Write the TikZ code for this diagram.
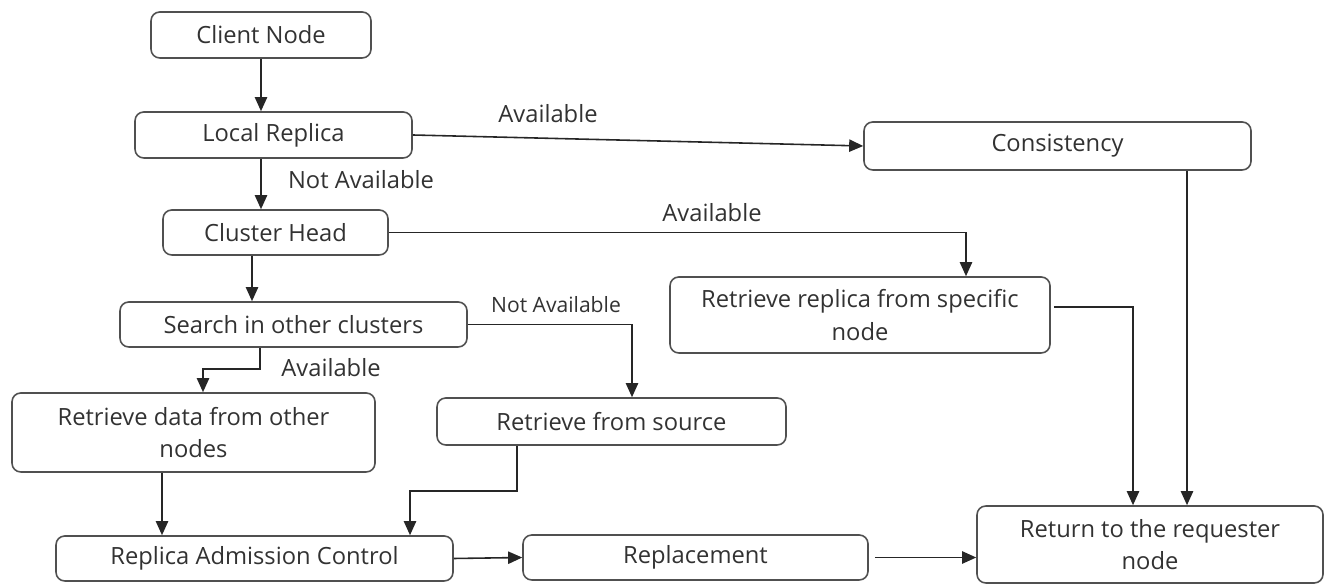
\documentclass[tikz,border=0pt]{standalone}
\usepackage{fontspec}
\setmainfont{Open Sans}
\usepackage{xcolor}
\definecolor{boxline}{RGB}{80,80,80}
\definecolor{boxtext}{RGB}{50,50,50}
\usepackage{tikz}
\usetikzlibrary{arrows.meta, positioning, calc}

\begin{document}
\begin{tikzpicture}[
  box/.style={draw=boxline, line width=0.9pt, rounded corners=5pt, align=center,
              text=boxtext, font=\fontsize{13.5}{18.5}\selectfont, inner sep=2pt},
  lbl/.style={text=boxtext, font=\fontsize{13.5}{16}\selectfont, inner sep=1pt},
  arr/.style={draw=black!85, line width=0.9pt, -{Triangle[length=8pt, width=7pt]}}
]
  \useasboundingbox (0,0) rectangle (26.48,11.7);

  % Boxes
  \node[box, minimum width=4.4cm,  minimum height=0.92cm] (client) at (5.22,11.0) {Client Node};
  \node[box, minimum width=5.54cm, minimum height=0.92cm] (local) at (5.47,9.0) {Local Replica};
  \node[box, minimum width=7.74cm, minimum height=0.96cm] (cons) at (21.15,8.78) {Consistency};
  \node[box, minimum width=4.5cm,  minimum height=0.9cm]  (head) at (5.51,7.05) {Cluster Head};
  \node[box, minimum width=7.6cm,  minimum height=1.52cm] (spec) at (17.2,5.4) {Retrieve replica from specific\\node};
  \node[box, minimum width=6.94cm, minimum height=0.9cm]  (search) at (5.87,5.21) {Search in other clusters};
  \node[box, minimum width=6.98cm, minimum height=0.94cm] (source) at (12.23,3.27) {Retrieve from source};
  \node[box, minimum width=7.26cm, minimum height=1.58cm] (others) at (3.87,3.05) {Retrieve data from other\\nodes};
  \node[box, minimum width=7.94cm, minimum height=0.9cm]  (admit) at (5.09,0.53) {Replica Admission Control};
  \node[box, minimum width=6.9cm,  minimum height=0.9cm]  (replace) at (13.91,0.55) {Replacement};
  \node[box, minimum width=6.92cm, minimum height=1.54cm] (ret) at (23.0,0.81) {Return to the requester\\node};

  % Labels
  \node[lbl] (avail1) at (10.96,9.42) {Available};
  \node[lbl] (notav1) at (7.22,8.1) {Not Available};
  \node[lbl] (avail2) at (14.24,7.44) {Available};
  \node[lbl, font=\fontsize{12}{14}\selectfont] (notav2) at (11.12,5.6) {Not Available};
  \node[lbl] (avail3) at (6.62,4.34) {Available};

  % Connector ends
  \coordinate (hs) at ([xshift=-0.47cm]head.south);
  \coordinate (ss) at ([xshift=-0.67cm]search.south);
  \coordinate (ot) at ([xshift=0.19cm]others.north);
  \coordinate (ob) at ([xshift=-0.63cm]others.south);
  \coordinate (sb) at ([xshift=-1.89cm]source.south);
  \coordinate (at) at ([xshift=3.11cm]admit.north);
  \coordinate (se) at ([xshift=0.06cm, yshift=0.16cm]spec.east);
  \coordinate (rt) at ([xshift=-0.34cm]ret.north);
  \coordinate (cb) at ([xshift=2.59cm]cons.south);
  \coordinate (re) at ([xshift=0.12cm]replace.east);

  % Arrows
  \draw[arr] (client) -- (client |- local.north);
  \draw[arr] (local.south -| client) -- (head.north -| client);
  \draw[arr] (local.east) -- (cons.west);
  \draw[arr] (head.east) -| ([xshift=2.12cm]spec.north);
  \draw[arr] (hs) -- (hs |- search.north);
  \draw[arr] (search.east) -| ([xshift=0.41cm]source.north);
  \draw[arr] (ss) -- ++(0,-0.42) -| (ot);
  \draw[arr] (ob) -- (ob |- admit.north);
  \draw[arr] (sb) -- ++(0,-0.9) -| (at);
  \draw[arr] (admit.east) -- (replace.west);
  \draw[arr] (re) -- (re -| ret.west);
  \draw[arr] (se) -| (rt);
  \draw[arr] (cb) -- (cb |- ret.north);
\end{tikzpicture}
\end{document}
